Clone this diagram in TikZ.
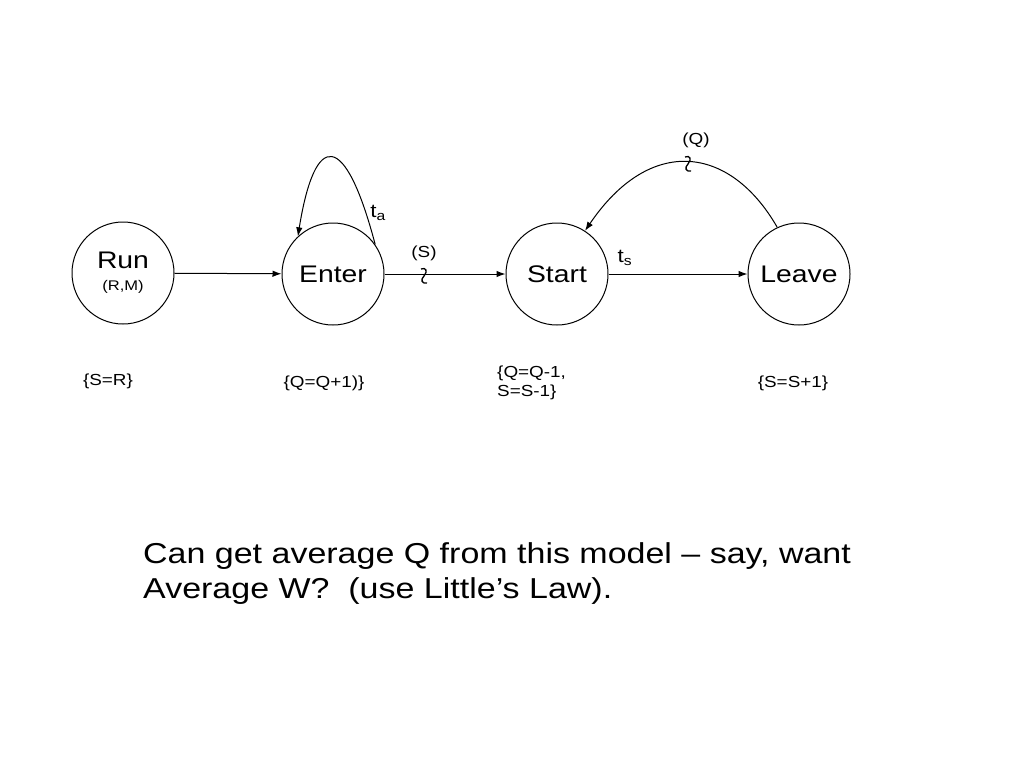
\documentclass[tikz,border=0pt]{standalone}
\usepackage{fontspec}
\setmainfont[FakeStretch=1.18]{Liberation Sans}
\usetikzlibrary{arrows.meta}
\begin{document}
\begin{tikzpicture}[x=1pt,y=-1pt,
  state/.style={circle,draw,line width=1pt,minimum size=102pt,inner sep=0pt,font=\fontsize{24}{26}\selectfont,align=center},
  arr/.style={line width=1pt,-{Latex[length=9pt,width=6.5pt]}},
  note/.style={font=\fontsize{16}{19}\selectfont,inner sep=0pt},
  lbl/.style={font=\fontsize{19}{21}\selectfont,inner sep=0pt},
  squig/.style={line width=1.3pt}]
\useasboundingbox (0,0) rectangle (1024,768);
\node[state] (run) at (123,273) {\raisebox{-4pt}{Run}\\[-4pt]{\fontsize{14}{16}\selectfont\raisebox{-4pt}{(R,M)}}};
\node[state] (enter) at (333,274) {Enter};
\node[state] (start) at (557,274) {Start};
\node[state] (leave) at (799,274) {Leave};

\draw[arr] (run) -- (enter);
\draw[arr] (enter) -- (start);
\draw[arr] (start) -- (leave);
\draw[arr] (enter.35) .. controls (345,130) and (315,130) .. (enter.133);
\draw[arr] (leave.115) .. controls (730,145) and (650,135) .. (start.57);

\coordinate (sq1) at (424,276);
\coordinate (sq2) at (688,164);
\draw[squig] ([shift={(-3,-7)}]sq1) .. controls ([shift={(2,-9)}]sq1) and ([shift={(4,-5)}]sq1) .. (sq1) .. controls ([shift={(-4,4)}]sq1) and ([shift={(-2,8)}]sq1) .. ([shift={(3,7)}]sq1);
\draw[squig] ([shift={(-3,-7)}]sq2) .. controls ([shift={(2,-9)}]sq2) and ([shift={(4,-5)}]sq2) .. (sq2) .. controls ([shift={(-4,4)}]sq2) and ([shift={(-2,8)}]sq2) .. ([shift={(3,7)}]sq2);

\node[lbl] (ta) at (378,213) {t\textsubscript{a}};
\node[lbl] (ts) at (625,258) {t\textsubscript{s}};
\node[note] (S) at (424,253) {(S)};
\node[note] (Q) at (696,140) {(Q)};

\node[note] (n1) at (108,381) {\{S=R\}};
\node[note] (n2) at (324,383) {\{Q=Q+1)\}};
\node[note,align=left,anchor=west] (n3) at (497,383) {\{Q=Q-1,\\S=S-1\}};
\node[note] (n4) at (793,383) {\{S=S+1\}};

\node[font=\fontsize{28.8}{35}\selectfont,align=left,anchor=north west,inner sep=0pt] (txt) at (143,542) {Can get average Q from this model -- say, want\\Average W?\ \ (use Little’s Law).};
\end{tikzpicture}
\end{document}
